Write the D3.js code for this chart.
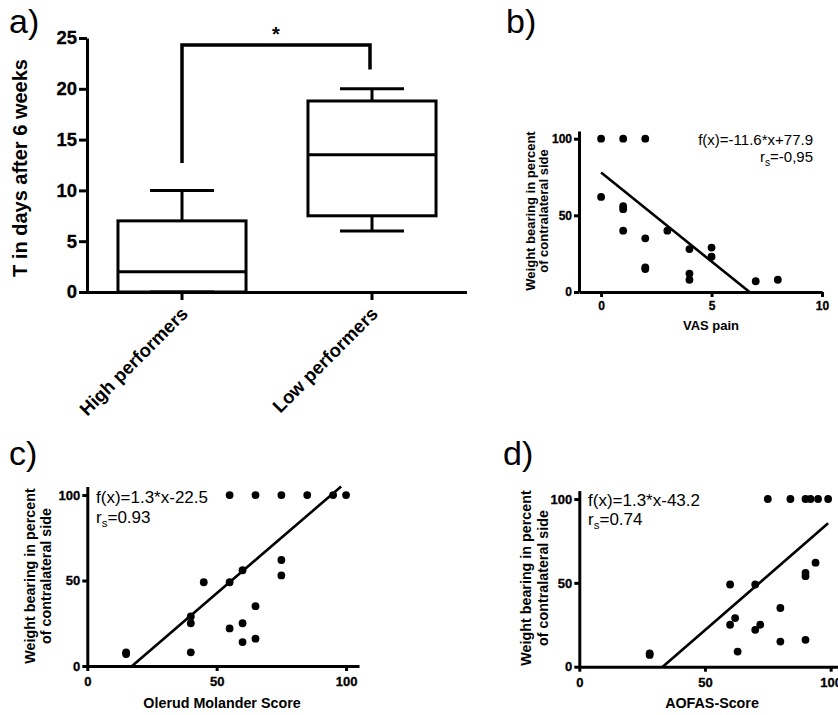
<!DOCTYPE html>
<html><head><meta charset="utf-8">
<script src="https://cdn.jsdelivr.net/npm/d3@7"></script>
<style>
body{margin:0;background:#fff}
svg{display:block}
text{font-family:"Liberation Sans",Arial,sans-serif;fill:#000}
</style></head><body>
<svg id="chart" width="838" height="715"></svg>
<script>
// ---------- Panel a: box plot ----------
const boxCategories = ["High performers", "Low performers"];
const boxMin    = [0, 6];
const boxQ1     = [0, 7.5];
const boxMedian = [2, 13.5];
const boxQ3     = [7, 18.8];
const boxMax    = [10, 20];
const yTicksA   = [0, 5, 10, 15, 20, 25];
const sigBracket = [12.7, 24.3, 21.9]; // left foot, top, right foot (days)
const sigLabel = "*";

// ---------- Panel b: VAS pain ----------
const vasPain = [0, 1, 2, 0, 1, 1, 1, 2, 2, 2, 3, 4, 4, 4, 5, 5, 7, 8];
const weightB = [100, 100, 100, 62, 56, 54, 40, 35, 16, 15, 40, 28, 12, 8, 29, 23, 7, 8];
const xTicksB = [0, 5, 10];

// ---------- Panel c: Olerud Molander ----------
const olerud  = [15, 15, 40, 40, 40, 45, 55, 55, 55, 60, 60, 60, 65, 65, 65, 75, 75, 75, 85, 95, 100];
const weightC = [8, 7, 8, 25, 29, 49, 49, 22, 100, 56, 25, 14, 100, 35, 16, 100, 62, 53, 100, 100, 100];

// ---------- Panel d: AOFAS ----------
const aofas   = [28, 28, 60, 60, 62, 63, 70, 70, 72, 80, 80, 90, 90, 90, 94, 75, 84, 90, 92, 95, 99];
const weightD = [8, 7, 49, 25, 29, 9, 49, 22, 25, 35, 15, 56, 54, 16, 62, 100, 100, 100, 100, 100, 100];

const scatterYTicks = [0, 50, 100];
const scatterXTicks = [0, 50, 100];

// regression lines (b, c, d)
const fitSlope     = [-11.6, 1.3, 1.3];
const fitIntercept = [77.9, -22.5, -43.2];
const fitXStart    = [0, 17.3, 33.2];
const fitXEnd      = [6.72, 98.1, 99];
const fitText      = ["f(x)=-11.6*x+77.9", "f(x)=1.3*x-22.5", "f(x)=1.3*x-43.2"];
const rsText       = ["=-0,95", "=0.93", "=0.74"];

const svg = d3.select("#chart");
const FONT = "Liberation Sans, Arial, sans-serif";

function styleAxis(g, fs) {
  g.attr("font-family", FONT).attr("font-size", fs).attr("font-weight", "bold");
  g.select(".domain").attr("stroke", "#000").attr("stroke-width", 3);
  g.selectAll(".tick line").attr("stroke", "#000").attr("stroke-width", 3);
  g.selectAll(".tick text").attr("fill", "#000").attr("stroke", "#000").attr("stroke-width", 0.3);
}

function panelLabel(txt, x, y) {
  svg.append("text").attr("x", x).attr("y", y)
    .attr("font-family", "Lato, 'Liberation Sans', sans-serif")
    .attr("font-size", 34).text(txt);
}

// ================= Panel a =================
panelLabel("a)", 9, 33);
const yA = d3.scaleLinear().domain([0, 25]).range([292, 38]);
const xA = d3.scaleBand().domain(boxCategories).range([87, 467]).paddingInner(0.326).paddingOuter(0.163);
const xAc = d => xA(d) + xA.bandwidth() / 2;

const gyA = svg.append("g").attr("transform", "translate(87,0)")
  .call(d3.axisLeft(yA).tickValues(yTicksA).tickSize(8).tickPadding(2).tickSizeOuter(0));
styleAxis(gyA, 18.5);

const gxA = svg.append("g").attr("transform", "translate(0,292)")
  .call(d3.axisBottom(xA).tickSize(8).tickSizeOuter(0).tickFormat(""));
styleAxis(gxA, 18);
gxA.select(".domain").attr("d", "M87,0.5H467");

boxCategories.forEach((c, i) => {
  svg.append("text")
    .attr("transform", `translate(${xAc(c) + 7},${315}) rotate(-45)`)
    .attr("text-anchor", "end").attr("font-weight", "bold").attr("font-size", 18.5)
    .text(c);
});

svg.append("text")
  .attr("transform", `translate(27,${(yA(0) + yA(25)) / 2 + 3}) rotate(-90)`)
  .attr("text-anchor", "middle").attr("font-weight", "bold").attr("font-size", 20)
  .text("T in days after 6 weeks");

const boxes = svg.append("g").attr("fill", "none").attr("stroke", "#000").attr("stroke-width", 3);
boxCategories.forEach((c, i) => {
  const x0 = xA(c), bw = xA.bandwidth(), cx = xAc(c);
  boxes.append("rect").attr("x", x0).attr("y", yA(boxQ3[i]))
    .attr("width", bw).attr("height", yA(boxQ1[i]) - yA(boxQ3[i]));
  boxes.append("line").attr("x1", x0).attr("x2", x0 + bw).attr("y1", yA(boxMedian[i])).attr("y2", yA(boxMedian[i]));
  boxes.append("line").attr("x1", cx).attr("x2", cx).attr("y1", yA(boxQ3[i])).attr("y2", yA(boxMax[i]));
  boxes.append("line").attr("x1", cx - bw / 4).attr("x2", cx + bw / 4).attr("y1", yA(boxMax[i])).attr("y2", yA(boxMax[i]));
  boxes.append("line").attr("x1", cx).attr("x2", cx).attr("y1", yA(boxQ1[i])).attr("y2", yA(boxMin[i]));
  boxes.append("line").attr("x1", cx - bw / 4).attr("x2", cx + bw / 4).attr("y1", yA(boxMin[i])).attr("y2", yA(boxMin[i]));
});

const bx1 = xAc(boxCategories[0]), bx2 = xAc(boxCategories[1]) - 2;
svg.append("path")
  .attr("d", `M${bx1},${yA(sigBracket[0])}V${yA(sigBracket[1])}H${bx2}V${yA(sigBracket[2])}`)
  .attr("fill", "none").attr("stroke", "#000").attr("stroke-width", 3.5);
svg.append("text").attr("x", (bx1 + bx2) / 2).attr("y", yA(sigBracket[1]) - 4)
  .attr("text-anchor", "middle").attr("font-weight", "bold").attr("font-size", 20).text(sigLabel);

// ================= Scatter panels =================
function scatterPanel(cfg, k) {
  const x = d3.scaleLinear().domain(cfg.xDomain).range(cfg.xRange);
  const y = d3.scaleLinear().domain([0, 105]).range(cfg.yRange);
  const gy = svg.append("g").attr("transform", `translate(${cfg.xRange[0]},0)`)
    .call(d3.axisLeft(y).tickValues(scatterYTicks).tickSize(5).tickPadding(cfg.yPad).tickSizeOuter(0));
  styleAxis(gy, cfg.tickFs);
  const gx = svg.append("g").attr("transform", `translate(0,${cfg.yRange[0]})`)
    .call(d3.axisBottom(x).tickValues(cfg.xTicks).tickSize(5).tickPadding(cfg.xPad).tickSizeOuter(0));
  styleAxis(gx, cfg.tickFs);

  svg.append("g").selectAll("circle").data(cfg.xs).join("circle")
    .attr("cx", d => x(d)).attr("cy", (d, i) => y(cfg.ys[i])).attr("r", 3.9).attr("fill", "#000");

  const xs0 = fitXStart[k], xs1 = fitXEnd[k];
  svg.append("line")
    .attr("x1", x(xs0)).attr("y1", y(fitSlope[k] * xs0 + fitIntercept[k]))
    .attr("x2", x(xs1)).attr("y2", y(fitSlope[k] * xs1 + fitIntercept[k]))
    .attr("stroke", "#000").attr("stroke-width", 2.6);

  // y label
  const yl = svg.append("text")
    .attr("transform", `translate(0,${cfg.yLabelCy}) rotate(-90)`)
    .attr("text-anchor", "middle").attr("font-weight", "bold").attr("font-size", cfg.labelFs);
  yl.append("tspan").attr("x", 0).attr("y", cfg.yLabelB[0]).text("Weight bearing in percent");
  yl.append("tspan").attr("x", 0).attr("y", cfg.yLabelB[1]).text("of contralateral side");

  svg.append("text").attr("x", cfg.xLabelCx).attr("y", cfg.xLabelY)
    .attr("text-anchor", "middle").attr("font-weight", "bold").attr("font-size", cfg.labelFs)
    .text(cfg.xLabel);

  svg.append("text").attr("x", cfg.fx).attr("y", cfg.fy).attr("text-anchor", cfg.anchor)
    .attr("font-size", cfg.fFs).text(fitText[k]);
  const rs = svg.append("text").attr("x", cfg.fx).attr("y", cfg.ry).attr("text-anchor", cfg.anchor)
    .attr("font-size", cfg.fFs);
  rs.append("tspan").text("r");
  rs.append("tspan").attr("font-size", cfg.fFs * 0.68).attr("dy", 4).text("s");
  rs.append("tspan").attr("dy", -4).text(rsText[k]);
}

panelLabel("b)", 506, 33);
scatterPanel({
  xDomain: [-1, 10], xRange: [579, 822], yRange: [292, 131], xTicks: xTicksB,
  tickFs: 12, yPad: 2, xPad: 4, labelFs: 13,
  xs: vasPain, ys: weightB,
  yLabelCy: 211, yLabelB: [535, 548],
  xLabel: "VAS pain", xLabelCx: 711, xLabelY: 330,
  fx: 813, fy: 145, ry: 162, anchor: "end", fFs: 15
}, 0);

panelLabel("c)", 9, 465);
scatterPanel({
  xDomain: [0, 105], xRange: [87.3, 359], yRange: [666, 486.5], xTicks: scatterXTicks,
  tickFs: 13, yPad: 2, xPad: 6, labelFs: 14.3,
  xs: olerud, ys: weightC,
  yLabelCy: 576, yLabelB: [35, 51],
  xLabel: "Olerud Molander Score", xLabelCx: 222, xLabelY: 708,
  fx: 96, fy: 503, ry: 523, anchor: "start", fFs: 17
}, 1);

panelLabel("d)", 503, 465);
scatterPanel({
  xDomain: [0, 105], xRange: [579.3, 843.2], yRange: [666.7, 490.6], xTicks: scatterXTicks,
  tickFs: 13, yPad: 2, xPad: 6, labelFs: 14.3,
  xs: aofas, ys: weightD,
  yLabelCy: 578, yLabelB: [531, 548],
  xLabel: "AOFAS-Score", xLabelCx: 712, xLabelY: 708,
  fx: 588, fy: 506, ry: 525, anchor: "start", fFs: 17
}, 2);
</script>
</body></html>
